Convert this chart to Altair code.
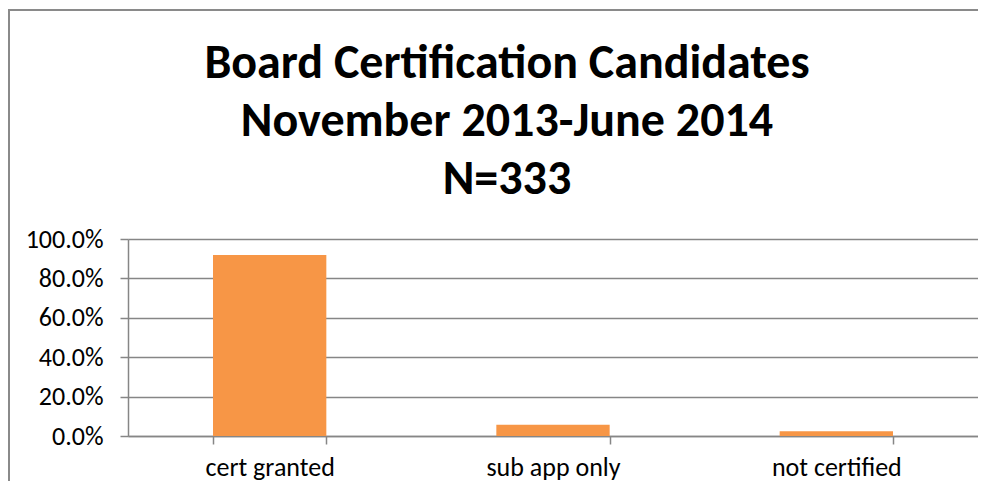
import altair as alt
import pandas as pd

categories = ["cert granted", "sub app only", "not certified"]
shares = [0.919, 0.057, 0.024]
title_lines = ["Board Certification Candidates", "November 2013-June 2014", "N=333"]

df = pd.DataFrame({"category": categories, "share": shares})

FONT = "Carlito, Lato, sans-serif"
GRAY = "#868686"

bars = alt.Chart(df).mark_bar(color="#F79646").encode(
    x=alt.X("category:N", sort=categories, title=None,
            scale=alt.Scale(paddingInner=0.6, paddingOuter=0.3),
            axis=alt.Axis(labelAngle=0, tickBand="extent", domainColor=GRAY, tickColor=GRAY,
                          tickSize=8, labelPadding=10, labelFontSize=26, labelFont=FONT,
                          labelColor="#000000", domainWidth=1.5, tickWidth=1.5)),
    y=alt.Y("share:Q", title=None, scale=alt.Scale(domain=[0, 1]),
            axis=alt.Axis(format=".1%", values=[0, 0.2, 0.4, 0.6, 0.8, 1.0], gridColor=GRAY,
                          domainColor=GRAY, tickColor=GRAY, tickSize=8, labelPadding=17,
                          labelFontSize=26, labelFont=FONT, labelColor="#000000",
                          gridWidth=1.5, domainWidth=1.5, tickWidth=1.5)),
)

frame_left = alt.Chart(df).mark_rule(color="#8a8a8a", strokeWidth=2).encode(
    x=alt.value(-119), y=alt.value(-230), y2=alt.value(250))
frame_top = alt.Chart(df).mark_rule(color="#8a8a8a", strokeWidth=2).encode(
    x=alt.value(-120), x2=alt.value(850), y=alt.value(-229))

chart = alt.layer(bars, frame_left, frame_top).properties(
    width=850, height=197,
    autosize=alt.AutoSizeParams(type="none"),
    padding={"left": 120, "top": 231, "right": 0, "bottom": 45},
    title=alt.TitleParams(text=title_lines, font=FONT, fontSize=48, fontWeight="bold",
                          color="#000000", anchor="middle", frame="group", dx=-46,
                          lineHeight=58, baseline="alphabetic", offset=47, dy=281),
).configure_view(stroke=None)

chart.save("out.html", embed_options={"renderer": "svg", "actions": False})
